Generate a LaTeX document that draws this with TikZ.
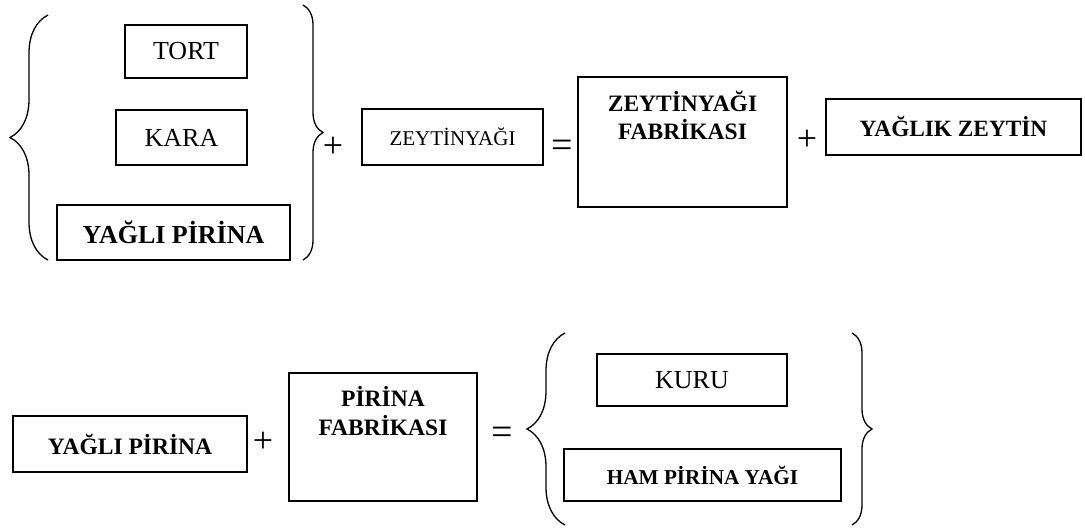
\documentclass[tikz,border=0pt]{standalone}
\usepackage{fontspec}
\setmainfont{Liberation Serif}
\usepackage{tikz}
\usetikzlibrary{decorations.pathreplacing}
\tikzset{kutu/.style={draw,line width=1.6pt,inner sep=0pt,align=center},
  isaret/.style={inner sep=0pt,font=\fontsize{36}{36}\selectfont},
  kume/.style={line width=1.3pt,decorate,decoration={brace,amplitude=#1}}}
\newcommand{\fs}[2]{\fontsize{#1}{#2}\selectfont}
\newcommand{\ustyazi}[4]{\parbox[c][#2pt][t]{#1pt}{\centering\rule{0pt}{#3pt}#4}}

\begin{document}
\begin{tikzpicture}[x=1pt,y=1pt]
\useasboundingbox (0,0) rectangle (1085,-530);
% ust satir
\node[kutu,minimum width=122,minimum height=53,font=\fs{26}{30}] (tort) at (186,-51.5) {TORT};
\node[kutu,minimum width=131,minimum height=55,font=\fs{26}{30}] (kara) at (181.5,-137.5) {KARA};
\node[kutu,minimum width=233,minimum height=55,font=\bfseries\fs{26}{30}] (ypir) at (173.5,-232.5) {YAĞLI PİRİNA};
\draw[kume=38] (48,-260) -- (48,-15);
\draw[kume=20] (303,-5) -- (303,-260);
\node[isaret] (plusa) at (333,-147) {+};
\node[kutu,minimum width=181,minimum height=56,font=\fs{21}{25}] (zyag) at (452.5,-137) {ZEYTİNYAĞI};
\node[isaret,font=\fs{38}{38}] (esita) at (562,-149) {=};
\node[kutu,font=\bfseries\fs{23.5}{28}] (zfab) at (682.5,-142) {\ustyazi{209}{130}{34.5}{ZEYTİNYAĞI\\FABRİKASI}};
\node[isaret] (plusb) at (807,-140) {+};
\node[kutu,minimum width=255,minimum height=56,font=\bfseries\fs{23.3}{28}] (yzey) at (953.5,-127) {YAĞLIK ZEYTİN};
% alt satir
\node[kutu,minimum width=234,minimum height=56,font=\bfseries\fs{23.5}{28}] (ypirb) at (130,-444) {YAĞLI PİRİNA};
\node[isaret] (plusc) at (263,-442) {+};
\node[kutu,font=\bfseries\fs{23.5}{29}] (pfab) at (383,-437) {\ustyazi{188}{128}{33}{PİRİNA\\FABRİKASI}};
\node[isaret,font=\fs{38}{38}] (esitb) at (502,-436) {=};
\draw[kume=38] (565,-525) -- (565,-333);
\draw[kume=20] (852,-333) -- (852,-525);
\node[kutu,minimum width=190,minimum height=52,font=\fs{26}{30}] (kuru) at (692,-380) {KURU};
\node[kutu,minimum width=277,minimum height=52,font=\bfseries\fs{21.2}{25}] (hpy) at (702.5,-475) {HAM PİRİNA YAĞI};
\end{tikzpicture}
\end{document}
